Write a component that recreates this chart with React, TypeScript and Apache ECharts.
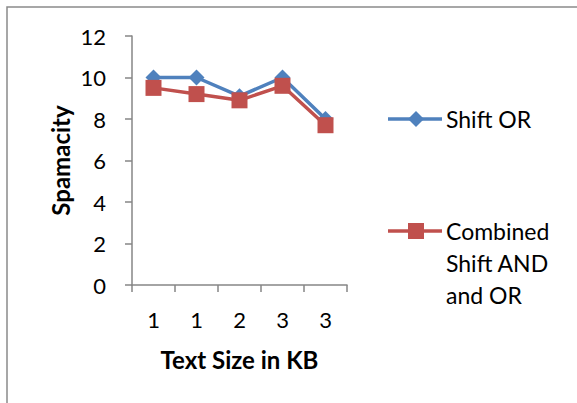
import React, { useEffect, useRef } from "react";
import * as echarts from "echarts";

const categories = ["1", "1", "2", "3", "3"];
const shiftOr = [10, 10, 9.1, 10, 8.0];
const combined = [9.5, 9.2, 8.9, 9.6, 7.7];
const seriesNames = ["Shift OR", "Combined\nShift AND\nand OR"];
const colors = ["#4F81BD", "#C0504D"];

const FONT = "Lato, 'Open Sans', sans-serif";

function legendItem(y: number, color: string, marker: "diamond" | "rect", text: string) {
  const x0 = 388;
  const x1 = 442;
  const cx = 416;
  const m =
    marker === "diamond"
      ? {
          type: "polygon",
          shape: { points: [[cx, y - 8], [cx + 8, y], [cx, y + 8], [cx - 8, y]] },
          style: { fill: color },
        }
      : {
          type: "rect",
          shape: { x: cx - 8, y: y - 8, width: 16, height: 16 },
          style: { fill: color },
        };
  return [
    { type: "line", shape: { x1: x0, y1: y, x2: x1, y2: y }, style: { stroke: color, lineWidth: 3.5 } },
    m,
    {
      type: "text",
      x: 446,
      y: y - 16,
      style: {
        text,
        fontSize: 23,
        lineHeight: 32,
        fontFamily: FONT,
        fill: "#000",
        textVerticalAlign: "top",
        verticalAlign: "top",
      },
    },
  ];
}

export default function App() {
  const ref = useRef<HTMLDivElement>(null);
  useEffect(() => {
    document.body.style.margin = "0";
    const chart = echarts.init(ref.current!, null, { renderer: "svg" });
    chart.setOption({
      animation: false,
      backgroundColor: "#ffffff",
      textStyle: { fontFamily: FONT },
      grid: { left: 132, top: 36, right: 230, bottom: 118 },
      graphic: [
        {
          type: "rect",
          shape: { x: 7, y: 7, width: 640, height: 440 },
          style: { fill: "none", stroke: "#8a8a8a", lineWidth: 1.5 },
          silent: true,
        },
        ...legendItem(119, colors[0], "diamond", seriesNames[0]),
        ...legendItem(231, colors[1], "rect", seriesNames[1]),
      ],
      xAxis: {
        type: "category",
        data: categories,
        boundaryGap: true,
        axisLine: { lineStyle: { color: "#868686", width: 1.5 } },
        axisTick: { show: true, length: 7, lineStyle: { color: "#868686", width: 1.5 } },
        axisLabel: { fontSize: 22, color: "#000", margin: 23, fontFamily: FONT },
        name: "Text Size in KB",
        nameLocation: "middle",
        nameGap: 62,
        nameTextStyle: { fontSize: 24, fontWeight: "bold", color: "#000", fontFamily: FONT },
      },
      yAxis: {
        type: "value",
        min: 0,
        max: 12,
        interval: 2,
        splitLine: { show: false },
        axisLine: { show: true, lineStyle: { color: "#868686", width: 1.5 } },
        axisTick: { show: true, length: 7, lineStyle: { color: "#868686", width: 1.5 } },
        axisLabel: { fontSize: 22, color: "#000", margin: 26, fontFamily: FONT },
        name: "Spamacity",
        nameLocation: "middle",
        nameGap: 60,
        nameTextStyle: { fontSize: 24, fontWeight: "bold", color: "#000", fontFamily: FONT },
      },
      series: [
        {
          name: seriesNames[0],
          type: "line",
          data: shiftOr,
          symbol: "diamond",
          symbolSize: 16,
          lineStyle: { color: colors[0], width: 3.5 },
          itemStyle: { color: colors[0] },
        },
        {
          name: seriesNames[1],
          type: "line",
          data: combined,
          symbol: "rect",
          symbolSize: 16,
          lineStyle: { color: colors[1], width: 3.5 },
          itemStyle: { color: colors[1] },
        },
      ],
    });
    return () => chart.dispose();
  }, []);
  return <div ref={ref} style={{ width: 577, height: 403 }} />;
}
